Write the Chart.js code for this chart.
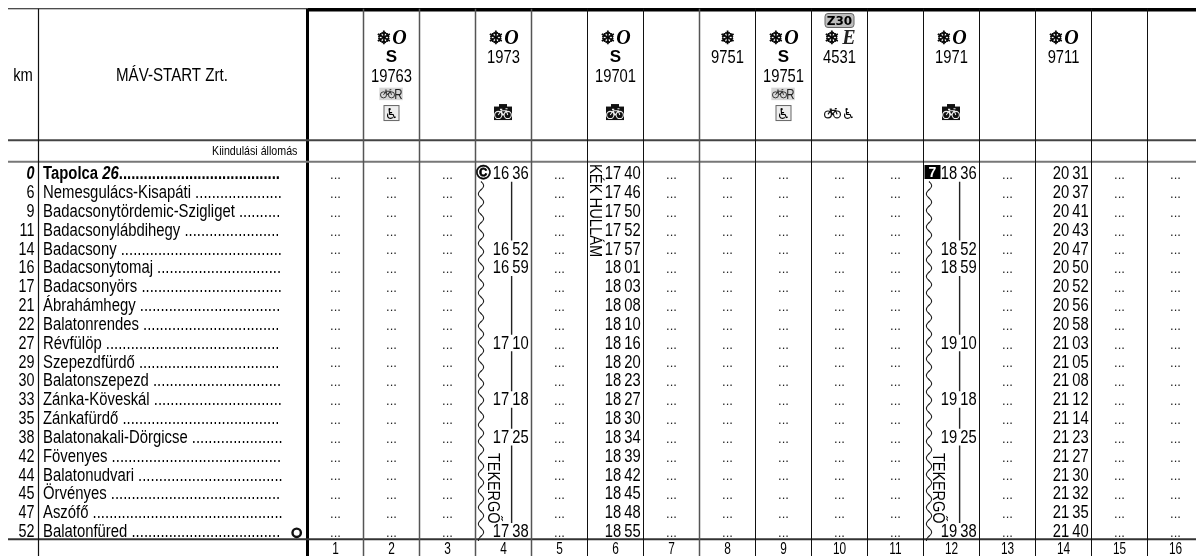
<!DOCTYPE html>
<html lang="hu">
<head>
<meta charset="utf-8">
<title>MÁV-START menetrend</title>
<style>
  html,body{margin:0;padding:0;background:#fff;overflow:hidden}
  canvas{display:block}
</style>
<script src="https://cdn.jsdelivr.net/npm/chart.js@4/dist/chart.umd.min.js"></script>
</head>
<body>
<canvas id="chart" width="1196" height="556"></canvas>
<script>
// Data read from the timetable
const stations = ['Tapolca','Nemesgulács-Kisapáti','Badacsonytördemic-Szigliget','Badacsonylábdihegy','Badacsony','Badacsonytomaj','Badacsonyörs','Ábrahámhegy','Balatonrendes','Révfülöp','Szepezdfürdő','Balatonszepezd','Zánka-Köveskál','Zánkafürdő','Balatonakali-Dörgicse','Fövenyes','Balatonudvari','Örvényes','Aszófő','Balatonfüred'];
const kms = [0,6,9,11,14,16,17,21,22,27,29,30,33,35,38,42,44,45,47,52];
const columnNumbers = [1,2,3,4,5,6,7,8,9,10,11,12,13,14,15,16];
const emptyColumns = [1,2,3,5,7,8,9,10,11,13,15,16];
const trainColumns = [2,4,6,8,9,10,12,14];
const trainNumbers = ['19763','1973','19701','9751','19751','4531','1971','9711'];
const trainClasses = ['O','O','O','','O','E','O','O'];
const sTrains = [2,6,9];
const times4 = ['16 36',null,null,null,'16 52','16 59',null,null,null,'17 10',null,null,'17 18',null,'17 25',null,null,null,null,'17 38'];
const times6 = ['17 40','17 46','17 50','17 52','17 57','18 01','18 03','18 08','18 10','18 16','18 20','18 23','18 27','18 30','18 34','18 39','18 42','18 45','18 48','18 55'];
const times12 = ['18 36',null,null,null,'18 52','18 59',null,null,null,'19 10',null,null,'19 18',null,'19 25',null,null,null,null,'19 38'];
const times14 = ['20 31','20 37','20 41','20 43','20 47','20 50','20 52','20 56','20 58','21 03','21 05','21 08','21 12','21 14','21 23','21 27','21 30','21 32','21 35','21 40'];
const passFrom = [0,5,9,12,14];
const passTo = [4,9,12,14,19];

// Layout: x unit = one train column, y unit = one station row
const SANS = '"Liberation Sans", Arial, sans-serif';
const SERIF = '"Liberation Serif", serif';
const DEJAVU = '"DejaVu Sans", sans-serif';
const NARROW = 0.82, NAME_NARROW = 0.85;
const colPx = 56, colOrigin = 279.5, rowPx = 18.83, rowOrigin = 173.5;
const edgeKm = -4.3035, edgeLeft = -4.848;
const rowTop = -8.75, rowHead = -1.76, rowStart = -0.62, rowEnd = 19.42, rowBottom = 20.4;

function rule(x1, y1, x2, y2, color, width){
  return {type:'scatter', showLine:true, pointRadius:0, borderColor:color, borderWidth:width,
    data:[{x:x1,y:y1},{x:x2,y:y2}], order:2};
}

const datasets = [];
// column rules
columnNumbers.forEach(c=>{
  if(c===1) return;
  const soft = c<=5 || c===8;
  datasets.push(rule(c-0.5, rowTop, c-0.5, rowBottom, soft?'#555':'#111', soft?1.5:1));
});
datasets.push(rule(edgeKm, rowTop, edgeKm, rowBottom, '#111', 1.2));
// row rules
datasets.push(rule(edgeLeft, rowTop, 0.5, rowTop, '#111', 1.2));
datasets.push(rule(0.5, rowTop+0.05, 16.4, rowTop+0.05, '#000', 3.5));
datasets.push(rule(edgeLeft, rowHead, 16.4, rowHead, '#444', 2));
datasets.push(rule(edgeLeft, rowStart, 16.4, rowStart, '#777', 2));
datasets.push(rule(edgeLeft, rowEnd, 16.4, rowEnd, '#333', 2));
datasets.push(rule(0.5, rowTop, 0.5, rowBottom, '#000', 3));
// through-running lines in the two TEKERGŐ trains
[4,12].forEach(c=>{
  passFrom.forEach((from,i)=>{
    datasets.push(rule(c+0.145, from+0.44, c+0.145, passTo[i]-0.44, '#222', 1.4));
  });
});
// terminus ring
datasets.push({type:'scatter', data:[{x:0.307,y:19.08}], pointRadius:4.2, pointBorderWidth:2.4,
  pointBorderColor:'#111', pointBackgroundColor:'#fff', order:1});

function text(ctx, str, x, y, font, opt){
  const o = opt || {};
  ctx.save();
  ctx.translate(x, y);
  if(o.rotate) ctx.rotate(o.rotate);
  ctx.scale(o.sx===undefined?NARROW:o.sx, 1);
  ctx.font = font;
  ctx.textAlign = o.align || 'left';
  ctx.textBaseline = 'alphabetic';
  ctx.fillStyle = o.color || '#000';
  ctx.fillText(str, 0, 0);
  if(o.stroke){
    ctx.strokeStyle = ctx.fillStyle;
    ctx.lineWidth = o.stroke;
    ctx.strokeText(str, 0, 0);
  }
  ctx.restore();
}

function textWidth(ctx, str, font, sx){
  ctx.save();
  ctx.font = font;
  const w = ctx.measureText(str).width * sx;
  ctx.restore();
  return w;
}

function bike(ctx, cx, cy, s, color, lw){
  ctx.save();
  ctx.translate(cx, cy);
  ctx.scale(s, s);
  ctx.strokeStyle = color;
  ctx.lineWidth = lw || 1.1;
  ctx.beginPath();
  ctx.arc(-5, 1.5, 3.8, 0, Math.PI*2);
  ctx.moveTo(8.8, 1.5);
  ctx.arc(5, 1.5, 3.8, 0, Math.PI*2);
  ctx.moveTo(-5, 1.5); ctx.lineTo(-2, -3); ctx.lineTo(3.5, -3); ctx.lineTo(5, 1.5);
  ctx.moveTo(-2, -3); ctx.lineTo(0, 1.5); ctx.lineTo(3.5, -3);
  ctx.moveTo(-3.2, -4.4); ctx.lineTo(-0.8, -4.4);
  ctx.moveTo(2.6, -5); ctx.lineTo(4.8, -5);
  ctx.stroke();
  ctx.restore();
}

function wave(ctx, x, yFrom, yTo){
  const period = 16.5, amp = 2.6;
  ctx.save();
  ctx.strokeStyle = '#222';
  ctx.lineWidth = 1.1;
  ctx.beginPath();
  for(let y=yFrom; y<=yTo; y+=0.5){
    const dx = amp*Math.sin((y-yFrom)/period*Math.PI*2);
    if(y===yFrom) ctx.moveTo(x+dx, y); else ctx.lineTo(x+dx, y);
  }
  ctx.stroke();
  ctx.restore();
}

const timetablePlugin = {
  id:'timetable',
  afterDatasetsDraw(chart){
    const ctx = chart.ctx;
    const X = v=>chart.scales.x.getPixelForValue(v);
    const Y = v=>chart.scales.y.getPixelForValue(v);
    const base = 5.8;
    const body = '17.5px '+SANS, bold = 'bold 17.5px '+SANS, boldIt = 'italic bold 17.5px '+SANS;
    const leaderEnd = 283;

    // left header
    text(ctx, 'km', X(-4.58), Y(-5.23)+6, '18px '+SANS, {align:'center'});
    text(ctx, 'MÁV-START Zrt.', X(-1.92), Y(-5.23)+6, '18px '+SANS, {align:'center', sx:0.84});
    text(ctx, 'Kiindulási állomás', X(0.32), Y(-1.2)+4, '13px '+SANS, {align:'right'});

    // station rows
    stations.forEach((name,i)=>{
      const y = Y(i)+base;
      const first = i===0;
      text(ctx, String(kms[i]), X(-4.375), y, first?boldIt:body, {align:'right'});
      let x = 43;
      if(first){
        text(ctx, name+' ', x, y, bold, {sx:NAME_NARROW}); x += textWidth(ctx, name+' ', bold, NAME_NARROW);
        text(ctx, '26', x, y, boldIt, {sx:NAME_NARROW}); x += textWidth(ctx, '26', boldIt, NAME_NARROW);
      }else{
        text(ctx, name+' ', x, y, body, {sx:NAME_NARROW}); x += textWidth(ctx, name+' ', body, NAME_NARROW);
      }
      const font = first?bold:body;
      const dot = textWidth(ctx, '.', font, NAME_NARROW);
      text(ctx, '.'.repeat(Math.floor((leaderEnd-x)/dot)), x, y, font, {sx:NAME_NARROW});
      emptyColumns.forEach(c=>text(ctx, '...', X(c), y-0.2, '13px '+SANS, {align:'center', sx:1, color:'#222'}));
    });

    // train times, hour and minute in their own tabs
    [[4,times4],[6,times6],[12,times12],[14,times14]].forEach(([c,times])=>{
      times.forEach((t,i)=>{
        if(!t) return;
        const [h,m] = t.split(' ');
        text(ctx, h, X(c+0.1), Y(i)+base, '18px '+SANS, {align:'right'});
        text(ctx, m, X(c+0.45), Y(i)+base, '18px '+SANS, {align:'right'});
      });
    });

    // train headers
    trainColumns.forEach((c,i)=>{
      const lower = sTrains.includes(c);
      const numRow = lower ? -5.23 : -6.24;
      text(ctx, trainNumbers[i], X(c), Y(numRow)+6.5, '18px '+SANS, {align:'center'});
      if(lower) text(ctx, 'S', X(c), Y(-6.24)+6, 'bold 17px '+SANS, {align:'center', sx:1});
      const cls = trainClasses[i];
      const flakeX = cls ? X(c)-7.6 : X(c);
      text(ctx, '❄', flakeX, Y(-7.21)+6.5, 'bold 18px '+DEJAVU, {align:'center', sx:1, stroke:0.7});
      if(cls==='O') text(ctx, 'O', X(c)+8, Y(-7.21)+6, 'italic bold 20px '+SERIF, {align:'center', sx:1});
      if(cls==='E') text(ctx, 'E', X(c)+9.5, Y(-7.21)+6.5, 'italic bold 20px '+SERIF, {align:'center', sx:1, color:'#222'});
    });

    // bike + R and wheelchair boxes
    sTrains.filter(c=>c!==6).forEach(c=>{
      const cx = X(c), y1 = Y(-4.24), y2 = Y(-3.21);
      ctx.fillStyle = '#d6d6d6';
      ctx.fillRect(cx-12.2, y1-6, 23.5, 12.5);
      bike(ctx, cx-4, y1, 0.8, '#222');
      text(ctx, 'R', cx+6.8, y1+5, '14px '+SANS, {align:'center', color:'#222'});
      ctx.fillStyle = '#eee';
      ctx.fillRect(cx-7.5, y2-7.5, 15, 15);
      ctx.strokeStyle = '#666';
      ctx.lineWidth = 1;
      ctx.strokeRect(cx-7.5, y2-7.5, 15, 15);
      text(ctx, '♿', cx, y2+5.5, '15px '+DEJAVU, {align:'center', sx:1});
    });

    // bike bag on black
    [4,6,12].forEach(c=>{
      const cx = X(c)-0.5, cy = Y(-3.21);
      ctx.fillStyle = '#111';
      ctx.fillRect(cx-9, cy-6.5, 18, 13.5);
      ctx.fillRect(cx-4, cy-9, 8, 3);
      bike(ctx, cx, cy+0.5, 0.95, '#eee');
    });

    // bike and wheelchair without frame
    bike(ctx, X(10)-7, Y(-3.21), 0.9, '#111', 1.3);
    text(ctx, '♿', X(10)+9, Y(-3.21)+5.5, '15px '+DEJAVU, {align:'center', sx:1});

    // Z30 tag
    const zx = X(10);
    ctx.fillStyle = '#bdbdbd';
    ctx.strokeStyle = '#666';
    ctx.lineWidth = 1;
    ctx.beginPath();
    ctx.roundRect(zx-14.5, 13.5, 29, 14, 3);
    ctx.fill();
    ctx.stroke();
    text(ctx, 'Z30', zx, 25, 'bold 12px '+DEJAVU, {align:'center', sx:1});

    // copyright mark, day marker
    text(ctx, '©', X(3.5)+0.5, Y(0)+5, 'bold 20px '+SANS, {sx:1, stroke:0.6});
    ctx.fillStyle = '#000';
    ctx.fillRect(X(11.5)+1, 165, 16, 14);
    text(ctx, '7', X(11.5)+9, 177, 'bold 14px '+SANS, {align:'center', sx:1, color:'#fff'});

    // wavy lines and rotated train names
    wave(ctx, X(3.5)+5.5, Y(0)+8, Y(rowEnd)+2);
    wave(ctx, X(11.5)+5.5, Y(0)+8, Y(rowEnd)+2);
    const quarter = Math.PI/2;
    text(ctx, 'KÉK HULLÁM', X(5.5)+2, 164, '16px '+SANS, {rotate:quarter, sx:0.92});
    text(ctx, 'TEKERGŐ', X(3.5)+12, 453, '16px '+SANS, {rotate:quarter, sx:0.9});
    text(ctx, 'TEKERGŐ', X(11.5)+9.5, 453, '16px '+SANS, {rotate:quarter, sx:0.9});

    // column numbers
    columnNumbers.forEach(c=>text(ctx, String(c), X(c), 553.5, '16.5px '+SANS, {align:'center', sx:0.72}));
  }
};

new Chart(document.getElementById('chart').getContext('2d'), {
  type:'scatter',
  data:{datasets},
  options:{
    responsive:false,
    animation:false,
    layout:{padding:0, autoPadding:false},
    plugins:{legend:{display:false}, tooltip:{enabled:false}},
    scales:{
      x:{type:'linear', display:false, min:-colOrigin/colPx, max:(1196-colOrigin)/colPx},
      y:{type:'linear', display:false, reverse:true, min:-rowOrigin/rowPx, max:(556-rowOrigin)/rowPx}
    }
  },
  plugins:[timetablePlugin]
});
</script>
</body>
</html>
